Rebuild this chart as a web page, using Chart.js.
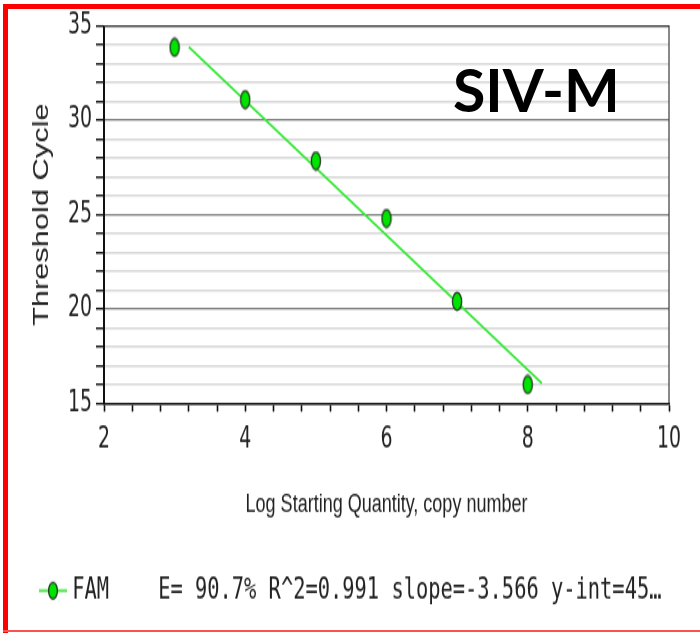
<!DOCTYPE html>
<html><head><meta charset="utf-8">
<script src="https://cdn.jsdelivr.net/npm/chart.js@4.4.1/dist/chart.umd.min.js"></script>
<style>
html,body{margin:0;padding:0;background:#fff;}
#wrap{position:relative;width:700px;height:635px;overflow:hidden;background:#fff;}
#cv{position:absolute;left:0;top:0;transform-origin:0 0;transform:scaleY(1.39868);}
.frame{position:absolute;background:#ff0000;}
#title{position:absolute;left:453px;top:60px;font:700 59px Lato,'Open Sans',sans-serif;line-height:1;color:#000;white-space:nowrap;}
</style></head><body>
<div id="wrap">
<canvas id="cv" width="700" height="454"></canvas>
<div class="frame" style="left:3px;top:4px;width:697px;height:5px"></div>
<div class="frame" style="left:3px;top:4px;width:5px;height:629px"></div>
<div class="frame" style="left:3px;top:630px;width:697px;height:2px;background:#ff5050"></div>
<div id="title">SIV-M</div>
</div>
<script>
// ---- data ----
const logQuantity = [3, 4, 5, 6, 7, 8];
const thresholdCycle = [33.87, 31.1, 27.85, 24.8, 20.4, 15.99];
const fitSlope = -3.566;
const fitIntercept = 45.3;
const fitRange = [3.2, 8.2];
const seriesName = 'FAM';
const statsText = 'E= 90.7% R^2=0.991 slope=-3.566 y-int=45\u2026';
const xAxisTitle = 'Log Starting Quantity, copy number';
const yAxisTitle = 'Threshold Cycle';
const xTickRange = [2, 10];
const xTickStep = 0.4;
const xLabelEvery = 2;
const yTickRange = [15, 35];
const yTickStep = 1;
const yLabelEvery = 5;

// ---- marker images ----
function makeEllipse(w, h, rx, ry, withLine) {
  const c = document.createElement('canvas');
  c.width = w; c.height = h;
  const g = c.getContext('2d');
  if (withLine) {
    g.strokeStyle = '#33dd33'; g.lineWidth = 1.8;
    g.beginPath(); g.moveTo(0, h / 2); g.lineTo(w, h / 2); g.stroke();
  }
  g.beginPath();
  g.ellipse(w / 2, h / 2, rx, ry, 0, 0, Math.PI * 2);
  g.fillStyle = '#00e400'; g.fill();
  g.strokeStyle = '#1c351c'; g.lineWidth = 1.3; g.stroke();
  return c;
}
const pointMark = makeEllipse(12, 15, 4.6, 6.3, false);
const legendMark = makeEllipse(28, 15, 4.4, 5.8, true);

const points = logQuantity.map((x, i) => ({x: x, y: thresholdCycle[i]}));
const fitLine = fitRange.map(x => ({x: x, y: fitIntercept + fitSlope * x}));

const frameBorder = {
  id: 'frameBorder',
  beforeDatasetsDraw(chart) {
    const {ctx, chartArea: a} = chart;
    ctx.save();
    ctx.strokeStyle = '#3a3a3a';
    ctx.lineWidth = 1.2;
    ctx.beginPath();
    ctx.moveTo(a.left, a.top); ctx.lineTo(a.right, a.top); ctx.lineTo(a.right, a.bottom);
    ctx.stroke();
    ctx.restore();
  }
};

const tickFont = {family: "'Liberation Sans Narrow','DejaVu Sans Condensed','Liberation Sans',sans-serif", size: 21};

new Chart(document.getElementById('cv'), {
  type: 'scatter',
  data: {
    datasets: [
      {label: seriesName, data: points, pointStyle: pointMark, pointRadius: 6, showLine: false},
      {type: 'line', label: 'fit', data: fitLine, borderColor: '#3ae83a', borderWidth: 1.8, pointRadius: 0, fill: false}
    ]
  },
  options: {
    responsive: false,
    devicePixelRatio: 1,
    animation: false,
    layout: {padding: {left: 10, right: 31, top: 18.6, bottom: 11.5}},
    plugins: {
      tooltip: {enabled: false},
      legend: {
        position: 'bottom',
        align: 'start',
        labels: {
          usePointStyle: true,
          pointStyleWidth: 18,
          padding: 34,
          color: '#222',
          font: {family: "'DejaVu Sans Mono','Liberation Mono',monospace", size: 20.4},
          generateLabels(chart) {
            const items = Chart.defaults.plugins.legend.labels.generateLabels(chart)
              .filter(it => it.datasetIndex === 0);
            items.forEach(it => {
              it.pointStyle = legendMark;
              it.text = seriesName + '    ' + statsText;
              it.fontColor = '#222';
            });
            return items;
          }
        }
      }
    },
    scales: {
      x: {
        type: 'linear',
        min: xTickRange[0], max: xTickRange[1],
        afterFit(s) { s.height = 89.8; },
        ticks: {
          stepSize: xTickStep, autoSkip: false, maxRotation: 0, padding: 8,
          color: '#222', font: tickFont,
          callback: v => (Math.abs(v - Math.round(v)) < 1e-6 && Math.round(v) % xLabelEvery === 0) ? String(Math.round(v)) : ''
        },
        grid: {drawOnChartArea: false, drawTicks: true, tickLength: 6, tickColor: '#111', tickWidth: 1.6},
        border: {display: true, color: '#111', width: 1.6},
        title: {display: true, text: xAxisTitle, color: '#222', padding: {top: 0, bottom: 6.3},
          font: {family: "'Liberation Sans',Arial,sans-serif", size: 18}}
      },
      y: {
        min: yTickRange[0], max: yTickRange[1],
        afterFit(s) { s.width = 94; },
        ticks: {
          stepSize: yTickStep, autoSkip: false, padding: 4,
          color: '#222', font: tickFont,
          callback: v => (v % yLabelEvery === 0) ? String(v) : ''
        },
        grid: {
          drawTicks: true, tickLength: 8, tickColor: '#111', tickWidth: 1.4,
          color: c => (c.tick && c.tick.value % yLabelEvery === 0) ? '#7c7c7c' : '#d8d8d8',
          lineWidth: c => (c.tick && c.tick.value % yLabelEvery === 0) ? 1.3 : 1.5
        },
        border: {display: true, color: '#111', width: 2},
        title: {display: true, text: yAxisTitle, color: '#222', padding: {top: 18.8, bottom: 0},
          font: {family: "'Liberation Sans',Arial,sans-serif", size: 22}}
      }
    }
  },
  plugins: [frameBorder]
});
</script>
</body></html>
